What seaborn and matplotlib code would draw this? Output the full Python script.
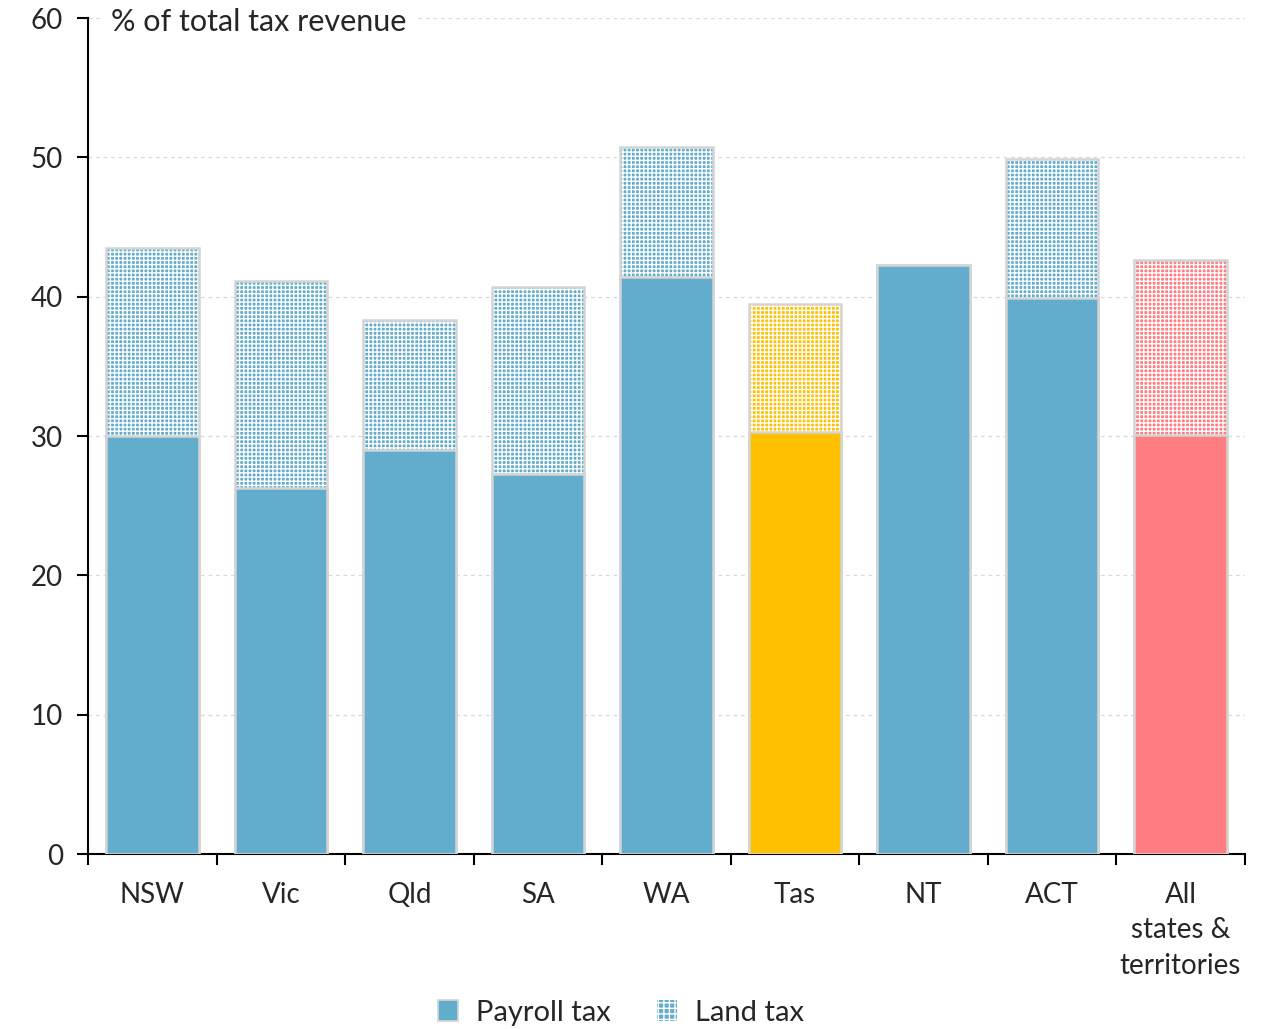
import matplotlib
matplotlib.use("Agg")
import matplotlib.pyplot as plt
from matplotlib.patches import Patch
import seaborn as sns
import pandas as pd

# Tax shares by jurisdiction (% of total tax revenue)
states = ["NSW", "Vic", "Qld", "SA", "WA", "Tas", "NT", "ACT", "All\nstates &\nterritories"]
payroll_tax = [30.0, 26.3, 29.0, 27.3, 41.4, 30.3, 42.3, 39.9, 30.1]
land_tax = [13.5, 14.8, 9.3, 13.4, 9.35, 9.2, 0.0, 10.0, 12.5]
bar_colors = ["#63adcc", "#63adcc", "#63adcc", "#63adcc", "#63adcc",
              "#ffc000", "#63adcc", "#63adcc", "#ff7c80"]
y_ticks = [0, 10, 20, 30, 40, 50, 60]

df = pd.DataFrame({"state": states, "payroll": payroll_tax, "land": land_tax})
df["total"] = df["payroll"] + df["land"]
palette = dict(zip(states, bar_colors))

sns.set_style("white")
plt.rcParams["font.family"] = ["Lato", "DejaVu Sans"]
plt.rcParams["hatch.linewidth"] = 1.0
plt.rcParams["hatch.color"] = "white"

fig = plt.figure(figsize=(12.67, 10.29), dpi=100)
ax = fig.add_axes([0.0695, 0.170, 0.913, 0.8125])

edge_grey = "#d4d4d4"
bar_w = 0.72
hatch = "++++"

# Land tax: stacked total drawn hatched, payroll drawn over it
sns.barplot(data=df, x="state", y="total", hue="state", palette=palette,
            width=bar_w, saturation=1, edgecolor="#ffffff", linewidth=0,
            legend=False, ax=ax, zorder=2)
for p in ax.patches:
    p.set_edgecolor("#ffffff")
    p.set_linewidth(0)
    p.set_hatch(hatch)
sns.barplot(data=df, x="state", y="total", hue="state", palette=palette,
            width=bar_w, saturation=1, fill=False, edgecolor=edge_grey,
            linewidth=1.8, legend=False, ax=ax, zorder=3)
sns.barplot(data=df, x="state", y="payroll", hue="state", palette=palette,
            width=bar_w, saturation=1, edgecolor=edge_grey, linewidth=1.8,
            legend=False, ax=ax, zorder=4)
for p in ax.patches[-len(states):]:
    p.set_edgecolor(edge_grey)

ax.set_ylim(0, 60)
ax.set_xlim(-0.5, len(states) - 0.5)
ax.set_yticks(y_ticks)
ax.set_xlabel("")
ax.set_ylabel("")

# Grid
for v in y_ticks[1:]:
    ax.axhline(v, color="#d9d9d9", lw=0.9, ls=(0, (3, 3)), zorder=0)

# Spines and ticks
for s in ["top", "right"]:
    ax.spines[s].set_visible(False)
for s in ["left", "bottom"]:
    ax.spines[s].set_color("black")
    ax.spines[s].set_linewidth(1.5)
ax.tick_params(axis="y", direction="out", length=8, width=1.5, color="black",
               labelsize=20, pad=10, left=True)
ax.tick_params(axis="x", which="major", length=0, labelsize=20, pad=20)
ax.set_xticks([i - 0.5 for i in range(len(states) + 1)], minor=True)
ax.tick_params(axis="x", which="minor", direction="out", length=8, width=1.5,
               color="black", bottom=True)
for lbl in ax.get_xticklabels():
    lbl.set_linespacing(1.45)

ax.text(0.02, 59.7, "% of total tax revenue", transform=ax.get_yaxis_transform(),
        fontsize=22, va="center", ha="left", zorder=5,
        bbox=dict(facecolor="white", edgecolor="none", pad=8))

# Legend
handles = [
    Patch(facecolor="#63adcc", edgecolor=edge_grey, linewidth=1.2, label="Payroll tax"),
    Patch(facecolor="#63adcc", edgecolor="#ffffff", hatch="+++", linewidth=0, label="Land tax"),
]
fig.legend(handles=handles, loc="center", bbox_to_anchor=(0.49, 0.016), ncol=2,
           frameon=False, fontsize=21, handlelength=0.7, handleheight=0.7,
           handletextpad=0.6, columnspacing=1.6)

fig.savefig("out.png", dpi=100)
